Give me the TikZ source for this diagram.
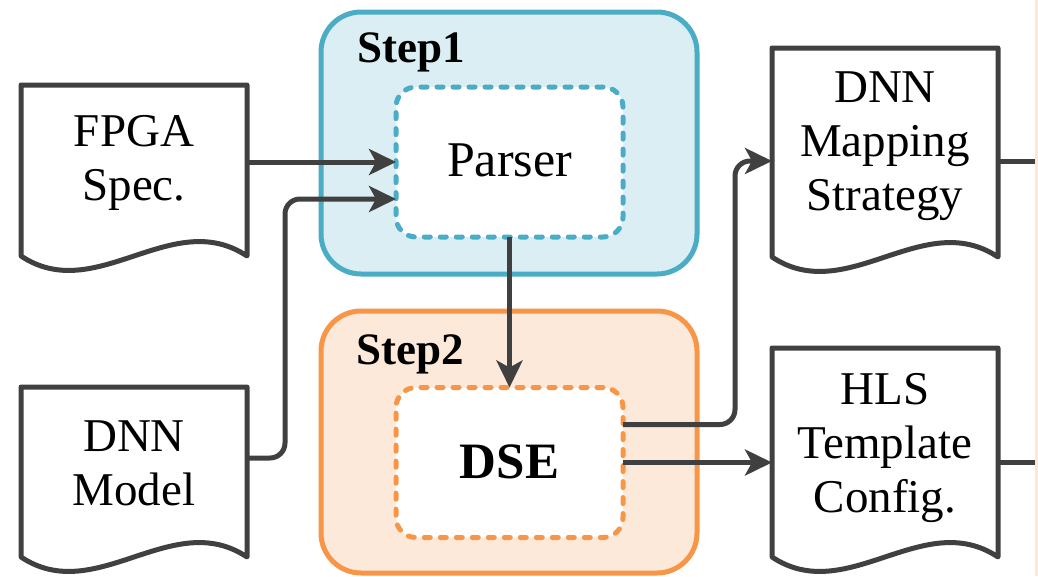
\documentclass[tikz,border=0pt]{standalone}
\usepackage{fontspec}
\setmainfont{Liberation Serif}
\usetikzlibrary{arrows.meta,calc}
\definecolor{dark}{RGB}{64,64,64}
\definecolor{blueline}{RGB}{75,172,198}
\definecolor{bluefill}{RGB}{218,238,243}
\definecolor{orangeline}{RGB}{247,150,70}
\definecolor{orangefill}{RGB}{253,233,217}
\definecolor{stripfill}{RGB}{252,232,214}
\tikzset{
  stepbox/.style={line width=5pt, rounded corners=40pt},
  innerbox/.style={draw, fill=white, line width=5pt, dash pattern=on 6pt off 10pt,
    line cap=round, rounded corners=20pt, minimum width=227pt, minimum height=150pt,
    inner sep=0pt, outer sep=0pt},
  docframe/.style={minimum width=226pt, inner sep=0pt, outer sep=0pt, anchor=north west},
  docline/.style={draw=dark, fill=white, line width=5pt, line join=round},
  doctext/.style={align=center, font=\fontsize{47}{54}\selectfont, inner sep=0pt},
  steplabel/.style={font=\fontsize{45}{50}\selectfont\bfseries, inner sep=0pt, anchor=base west},
  conn/.style={draw=dark, line width=5pt},
  arr/.style={conn, -{Stealth[length=27pt,width=26pt,inset=7pt]}},
}
\begin{document}
\begin{tikzpicture}[x=1pt,y=-1pt]
\useasboundingbox (0,0) rectangle (1038,576);
\fill[stripfill] (1035,0) rectangle (1038,576);

% step containers
\draw[stepbox, draw=blueline, fill=bluefill] (321,12) rectangle (697,274);
\draw[stepbox, draw=orangeline, fill=orangefill] (321,311) rectangle (697,573);
\node[steplabel] (s1) at (357,62) {Step1};
\node[steplabel] (s2) at (356,364) {Step2};

% inner boxes
\node[innerbox, draw=blueline, font=\fontsize{50}{54}\selectfont, text height=31pt, text depth=3pt] (parser) at (509.5,162) {Parser};
\node[innerbox, draw=orangeline, font=\fontsize{51}{54}\selectfont\bfseries, text height=31pt, text depth=0pt] (dse) at (509.5,462.5) {DSE};

% documents
\node[docframe, minimum height=171pt] (fpga) at (21,85) {};
\node[docframe, minimum height=170pt] (model) at (21,387) {};
\node[docframe, minimum height=209pt] (map) at (772,48) {};
\node[docframe, minimum height=209pt] (hls) at (772,348) {};
\foreach \d in {fpga,model,map,hls}{
  \draw[docline] (\d.south west) -- (\d.north west) -- (\d.north east) -- (\d.south east)
    .. controls +(-75,-50) and +(75,50) .. (\d.south west) -- cycle;
}
\node[doctext, anchor=base] (fpgaT) at (134,200) {FPGA\\Spec.};
\node[doctext, anchor=base] (modelT) at (134,505) {DNN\\Model};
\node[doctext, anchor=base] (mapT) at (885,210) {DNN\\Mapping\\Strategy};
\node[doctext, anchor=base] (hlsT) at (885,512) {HLS\\Template\\Config.};

% connectors
\draw[arr] (fpga.east |- parser.west) -- (parser.west);
\draw[arr, rounded corners=15pt] ([yshift=14pt]model.east) -- ++(38,0) |- ([yshift=-37pt]parser.west);
\draw[arr] (parser.south) -- (dse.north);
\draw[arr, rounded corners=15pt] ([yshift=38pt]dse.east) -- ++(112,0) |- ([yshift=-8.5pt]map.west);
\draw[arr] (dse.east) -- (dse.east -| hls.west);
\coordinate (outA) at (1035,161);
\coordinate (outB) at (1035,462);
\draw[conn] (map.east |- outA) -- (outA);
\draw[conn] (hls.east |- outB) -- (outB);
\end{tikzpicture}
\end{document}
